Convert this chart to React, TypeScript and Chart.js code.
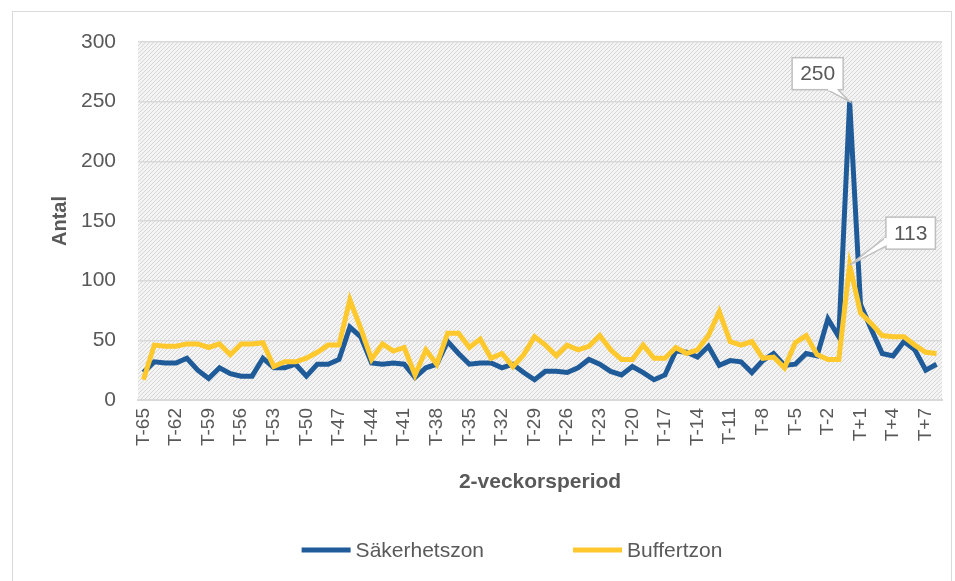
import React, { useEffect, useRef } from 'react';
import { Chart, registerables } from 'chart.js';

Chart.register(...registerables);

const categories = [
  'T-65', 'T-64', 'T-63', 'T-62', 'T-61', 'T-60', 'T-59', 'T-58', 'T-57', 'T-56',
  'T-55', 'T-54', 'T-53', 'T-52', 'T-51', 'T-50', 'T-49', 'T-48', 'T-47', 'T-46',
  'T-45', 'T-44', 'T-43', 'T-42', 'T-41', 'T-40', 'T-39', 'T-38', 'T-37', 'T-36',
  'T-35', 'T-34', 'T-33', 'T-32', 'T-31', 'T-30', 'T-29', 'T-28', 'T-27', 'T-26',
  'T-25', 'T-24', 'T-23', 'T-22', 'T-21', 'T-20', 'T-19', 'T-18', 'T-17', 'T-16',
  'T-15', 'T-14', 'T-13', 'T-12', 'T-11', 'T-10', 'T-9', 'T-8', 'T-7', 'T-6',
  'T-5', 'T-4', 'T-3', 'T-2', 'T-1', 'T0', 'T+1', 'T+2', 'T+3', 'T+4',
  'T+5', 'T+6', 'T+7', 'T+8',
];

const sakerhetszon = [
  23, 32, 31, 31, 35, 25, 18, 27, 22, 20,
  20, 35, 27, 27, 30, 20, 30, 30, 34, 61,
  53, 31, 30, 31, 30, 19, 27, 30, 49, 39,
  30, 31, 31, 27, 30, 23, 17, 24, 24, 23,
  27, 34, 30, 24, 21, 28, 23, 17, 21, 41,
  40, 36, 45, 29, 33, 32, 23, 33, 39, 29,
  30, 39, 37, 68, 53, 250, 80, 59, 39, 37,
  49, 42, 25, 30,
];

const buffertzon = [
  17, 46, 45, 45, 47, 47, 44, 47, 38, 47,
  47, 48, 28, 32, 32, 35, 40, 46, 46, 84,
  60, 34, 47, 41, 44, 21, 42, 30, 56, 56,
  44, 51, 35, 39, 28, 38, 53, 46, 37, 46,
  42, 45, 54, 42, 34, 34, 46, 35, 35, 44,
  39, 42, 54, 74, 49, 46, 49, 35, 36, 27,
  48, 54, 38, 34, 34, 113, 73, 64, 54, 53,
  53, 46, 40, 39,
];

const seriesNames = ['Säkerhetszon', 'Buffertzon'];
const yTicks = [0, 50, 100, 150, 200, 250, 300];
const labelEvery = 3;
const calloutCategory = 'T0';

const BLUE = '#1f5b98';
const YELLOW = '#ffc82c';
const TEXT = '#595959';
const FONT = "'Liberation Sans', Arial, sans-serif";

function makePattern(ctx: CanvasRenderingContext2D) {
  const c = document.createElement('canvas');
  c.width = 4;
  c.height = 4;
  const g = c.getContext('2d')!;
  g.fillStyle = '#f4f4f4';
  g.fillRect(0, 0, 4, 4);
  g.fillStyle = '#d6d6d6';
  for (let i = 0; i < 4; i++) g.fillRect(i, 3 - i, 1, 1);
  return ctx.createPattern(c, 'repeat');
}

const backgroundPlugin = {
  id: 'hatchBg',
  beforeDraw(chart: any) {
    const { ctx, chartArea } = chart;
    const p = makePattern(ctx);
    if (!p) return;
    ctx.save();
    ctx.fillStyle = p;
    ctx.fillRect(chartArea.left, chartArea.top, chartArea.right - chartArea.left, chartArea.bottom - chartArea.top);
    ctx.restore();
  },
};

const calloutPlugin = {
  id: 'callouts',
  afterDatasetsDraw(chart: any) {
    const { ctx } = chart;
    const idx = chart.data.labels.indexOf(calloutCategory);
    const specs = [
      { ds: 0, dx: -32, dy: -28 },
      { ds: 1, dx: 61, dy: -32 },
    ];
    ctx.save();
    ctx.font = `21px ${FONT}`;
    for (const s of specs) {
      const el = chart.getDatasetMeta(s.ds).data[idx];
      if (!el) continue;
      const px = el.x;
      const py = el.y;
      const text = String(chart.data.datasets[s.ds].data[idx]);
      const tw = ctx.measureText(text).width;
      const w = tw + 16;
      const h = 32;
      const cx = px + s.dx;
      const cy = py + s.dy;
      const l = cx - w / 2;
      const t = cy - h / 2;
      ctx.fillStyle = '#ffffff';
      ctx.strokeStyle = '#bfbfbf';
      ctx.lineWidth = 1.5;
      ctx.fillRect(l, t, w, h);
      ctx.strokeRect(l, t, w, h);
      let a: [number, number], b: [number, number];
      if (s.dx < 0) {
        a = [l + w - 16, t + h];
        b = [l + w - 5, t + h];
      } else {
        a = [l, t + h - 12];
        b = [l, t + h - 3];
      }
      ctx.beginPath();
      ctx.moveTo(a[0], a[1]);
      ctx.lineTo(px, py);
      ctx.lineTo(b[0], b[1]);
      ctx.closePath();
      ctx.fill();
      ctx.beginPath();
      ctx.moveTo(a[0], a[1]);
      ctx.lineTo(px, py);
      ctx.lineTo(b[0], b[1]);
      ctx.stroke();
      ctx.fillStyle = '#ffffff';
      if (s.dx < 0) ctx.fillRect(a[0] + 1, t + h - 2, b[0] - a[0] - 2, 3);
      else ctx.fillRect(l - 2, a[1] + 1, 3, b[1] - a[1] - 2);
      ctx.fillStyle = TEXT;
      ctx.textAlign = 'center';
      ctx.textBaseline = 'middle';
      ctx.fillText(text, cx, cy + 1);
    }
    ctx.restore();
  },
};

const legendPlugin = {
  id: 'customLegend',
  afterDraw(chart: any) {
    const { ctx } = chart;
    const datasets = chart.data.datasets;
    const lineW = 49;
    const gapText = 5;
    const gapItem = 89;
    const centerX = 512;
    const y = 550;
    ctx.save();
    ctx.font = `21px ${FONT}`;
    const widths = datasets.map((d: any) => lineW + gapText + ctx.measureText(d.label).width);
    const total = widths.reduce((a: number, b: number) => a + b, 0) + gapItem * (datasets.length - 1);
    let x = centerX - total / 2;
    datasets.forEach((d: any, i: number) => {
      ctx.strokeStyle = d.borderColor;
      ctx.lineWidth = 5;
      ctx.beginPath();
      ctx.moveTo(x, y);
      ctx.lineTo(x + lineW, y);
      ctx.stroke();
      ctx.fillStyle = TEXT;
      ctx.textAlign = 'left';
      ctx.textBaseline = 'middle';
      ctx.fillText(d.label, x + lineW + gapText, y + 1);
      x += widths[i] + gapItem;
    });
    ctx.restore();
  },
};

export default function App() {
  const ref = useRef<HTMLCanvasElement | null>(null);

  useEffect(() => {
    if (!ref.current) return;
    const chart = new Chart(ref.current, {
      type: 'line',
      data: {
        labels: categories,
        datasets: [
          {
            label: seriesNames[0],
            data: sakerhetszon,
            borderColor: BLUE,
            backgroundColor: BLUE,
            borderWidth: 5,
            pointRadius: 0,
            tension: 0,
            order: 1,
          },
          {
            label: seriesNames[1],
            data: buffertzon,
            borderColor: YELLOW,
            backgroundColor: YELLOW,
            borderWidth: 5,
            pointRadius: 0,
            tension: 0,
            order: 0,
          },
        ],
      },
      options: {
        animation: false,
        responsive: false,
        layout: { padding: { left: 0, top: 42, right: 13, bottom: 82 } },
        plugins: {
          legend: { display: false },
          tooltip: { enabled: false },
        },
        scales: {
          x: {
            offset: true,
            grid: { display: false, drawTicks: false },
            border: { display: true, color: '#d9d9d9', width: 2 },
            ticks: {
              autoSkip: false,
              maxRotation: 90,
              minRotation: 90,
              padding: 8,
              color: TEXT,
              font: { family: FONT, size: 19 },
              callback: (_v: any, i: number) => (i % labelEvery === 0 ? categories[i] : ''),
            },
            title: {
              display: true,
              text: '2-veckorsperiod',
              color: TEXT,
              font: { family: FONT, size: 21, weight: 'bold' },
              padding: { top: 4, bottom: 4 },
            },
            afterFit: (s: any) => {
              s.height = 99;
              s.paddingLeft = 0;
              s.paddingRight = 0;
            },
          },
          y: {
            min: yTicks[0],
            max: yTicks[yTicks.length - 1],
            grid: { color: '#d9d9d9', lineWidth: 1.5, drawTicks: false },
            border: { display: false },
            afterBuildTicks: (s: any) => {
              s.ticks = yTicks.map((v) => ({ value: v }));
            },
            ticks: {
              padding: 22,
              color: TEXT,
              font: { family: FONT, size: 21 },
            },
            title: {
              display: true,
              text: 'Antal',
              color: TEXT,
              font: { family: FONT, size: 20, weight: 'bold' },
              padding: { top: 48, bottom: 0 },
            },
            afterFit: (s: any) => {
              s.width = 138;
            },
          },
        },
      },
      plugins: [backgroundPlugin, calloutPlugin, legendPlugin],
    });
    return () => chart.destroy();
  }, []);

  return (
    <div style={{ position: 'fixed', left: 0, top: 0, width: 955, height: 581, background: '#ffffff' }}>
      <div
        style={{
          position: 'absolute',
          left: 12,
          top: 11,
          width: 938,
          height: 600,
          border: '1px solid #d9d9d9',
          pointerEvents: 'none',
        }}
      />
      <canvas ref={ref} width={955} height={581} style={{ position: 'absolute', left: 0, top: 0, display: 'block' }} />
    </div>
  );
}
